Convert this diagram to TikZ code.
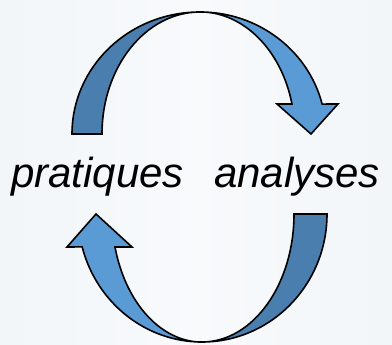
\documentclass[tikz,border=0pt]{standalone}
\usepackage{fontspec}
\setmainfont{Liberation Sans}
\definecolor{bgedge}{RGB}{242,246,248}
\definecolor{bgmid}{RGB}{248,250,252}
\definecolor{banddark}{RGB}{74,126,174}
\definecolor{bandlight}{RGB}{91,155,213}
\tikzset{
  band/.style={draw=black, line width=1.6pt, line join=miter},
  darkband/.style={band, fill=banddark},
  lightband/.style={band, fill=bandlight},
  word/.style={inner sep=0pt, font=\fontsize{42}{50}\selectfont\itshape, text=black}
}
\begin{document}
\begin{tikzpicture}[x=1pt,y=1pt]
\useasboundingbox (0,0) rectangle (392,345);
\shade[left color=bgedge, right color=bgedge, middle color=bgmid] (0,0) rectangle (392,345);
% top arrow
\path[darkband] (72,211) arc[start angle=180, end angle=90, x radius=128, y radius=122]
  arc[start angle=90, end angle=180, x radius=98, y radius=122] -- cycle;
\path[lightband] (200,333) arc[start angle=90, end angle=14.2, x radius=126, y radius=122]
  -- (338,241) -- (311,211) -- (277,241) -- (292,241)
  arc[start angle=14.2, end angle=90, x radius=95, y radius=122] -- cycle;
% bottom arrow
\path[darkband] (327,131) arc[start angle=0, end angle=-90, x radius=125, y radius=128]
  arc[start angle=-90, end angle=0, x radius=92, y radius=128] -- cycle;
\path[lightband] (202,3) arc[start angle=270, end angle=194.9, x radius=124, y radius=128]
  -- (67,98) -- (96,131) -- (132,98) -- (115,98)
  arc[start angle=194.9, end angle=270, x radius=90, y radius=128] -- cycle;
% labels
\node[word, anchor=base west] (pratiques) at (11,157) {pratiques};
\node[word, anchor=base west] (analyses) at (214,157) {analyses};
\end{tikzpicture}
\end{document}
